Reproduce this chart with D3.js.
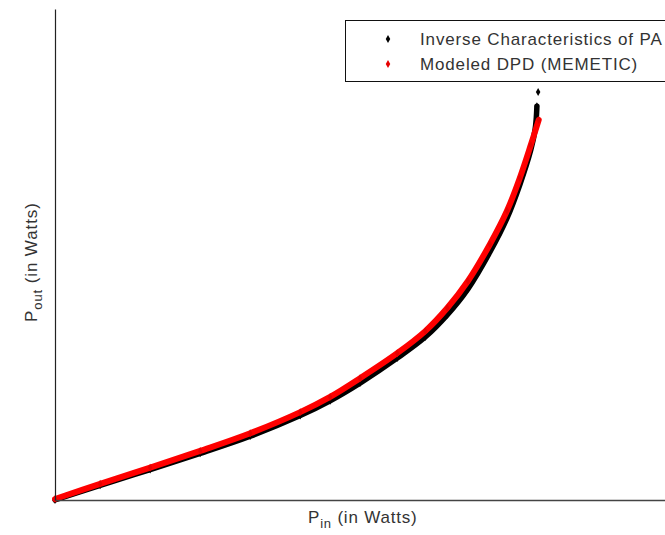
<!DOCTYPE html>
<html>
<head>
<meta charset="utf-8">
<script src="https://cdn.jsdelivr.net/npm/d3@7"></script>
<style>
  body { margin: 0; background: #fff; }
  svg { font-family: "Liberation Sans", Arial, sans-serif; }
</style>
</head>
<body>
<script>
// series values (normalised watts)
var paIn  = [0.000, 0.074, 0.156, 0.238, 0.320, 0.402, 0.451, 0.500, 0.561, 0.607, 0.643, 0.677, 0.713, 0.741, 0.762, 0.780, 0.787, 0.789, 0.790, 0.792];
var paOut = [0.000, 0.030, 0.062, 0.095, 0.130, 0.172, 0.202, 0.238, 0.289, 0.332, 0.377, 0.430, 0.505, 0.574, 0.642, 0.713, 0.754, 0.778, 0.802, 0.831];
var dpdIn  = [0.000, 0.074, 0.156, 0.238, 0.320, 0.402, 0.451, 0.500, 0.561, 0.607, 0.643, 0.677, 0.713, 0.741, 0.762, 0.780, 0.793];
var dpdOut = [0.002, 0.033, 0.066, 0.100, 0.136, 0.179, 0.210, 0.248, 0.299, 0.344, 0.391, 0.446, 0.521, 0.589, 0.656, 0.723, 0.774];
var seriesNames = ["Inverse Characteristics of PA", "Modeled DPD (MEMETIC)"];
var seriesColors = ["#000000", "#e60000"];

var width = 665, height = 535;
var margin = {left: 55, top: 9, bottom: 35};

var svg = d3.select("body").append("svg")
    .attr("width", width)
    .attr("height", height);

var x = d3.scaleLinear().domain([0, 1]).range([margin.left, width]);
var y = d3.scaleLinear().domain([0, 1]).range([height - margin.bottom, margin.top]);

var pa = paIn.map(function(v, i){ return [v, paOut[i]]; });
var dpd = dpdIn.map(function(v, i){ return [v, dpdOut[i]]; });

var line = d3.line()
    .x(function(d){ return x(d[0]); })
    .y(function(d){ return y(d[1]); })
    .curve(d3.curveCatmullRom);

var diamond = d3.symbol().type(d3.symbolDiamond).size(18);

//black band (inverse PA), top point is a lone outlier
svg.append("path")
    .datum(pa.slice(0, pa.length - 1))
    .attr("fill", "none")
    .attr("stroke", seriesColors[0])
    .attr("stroke-width", 5.5)
    .attr("stroke-linecap", "round")
    .attr("d", line);
svg.selectAll(".paPts").data(pa).enter().append("path")
    .attr("class", "paPts")
    .attr("d", diamond)
    .attr("fill", seriesColors[0])
    .attr("transform", function(d){ return "translate(" + x(d[0]) + "," + y(d[1]) + ")"; });

//red band (DPD model)
svg.append("path")
    .datum(dpd)
    .attr("fill", "none")
    .attr("stroke", "#ff0000")
    .attr("stroke-width", 6)
    .attr("stroke-linecap", "round")
    .attr("d", line);
svg.selectAll(".dpdPts").data(dpd).enter().append("path")
    .attr("class", "dpdPts")
    .attr("d", diamond)
    .attr("fill", seriesColors[1])
    .attr("transform", function(d){ return "translate(" + x(d[0]) + "," + y(d[1]) + ")"; });

//axes, no ticks
svg.append("g")
    .attr("transform", "translate(0," + y(0) + ")")
    .call(d3.axisBottom(x).ticks(0).tickSizeOuter(0))
    .select(".domain").attr("stroke", "#444").attr("stroke-width", 1.5);
svg.append("g")
    .attr("transform", "translate(" + x(0) + ",0)")
    .call(d3.axisLeft(y).ticks(0).tickSizeOuter(0))
    .select(".domain").attr("stroke", "#222").attr("stroke-width", 1.2);

//axis labels
var xl = svg.append("text")
    .attr("x", 308).attr("y", 523)
    .attr("font-size", 17).attr("letter-spacing", 0.8).attr("fill", "#333");
xl.append("tspan").text("P");
xl.append("tspan").attr("dy", 5).attr("font-size", 13).text("in");
xl.append("tspan").attr("dy", -5).text(" (in Watts)");

var yl = svg.append("text")
    .attr("transform", "translate(37,322) rotate(-90)")
    .attr("font-size", 17).attr("letter-spacing", 0.9).attr("fill", "#333");
yl.append("tspan").text("P");
yl.append("tspan").attr("dy", 5).attr("font-size", 13).text("out");
yl.append("tspan").attr("dy", -5).text(" (in Watts)");

//legend
var legend = svg.append("g");
legend.append("rect")
    .attr("x", 345.5).attr("y", 20.5)
    .attr("width", 330).attr("height", 61)
    .attr("fill", "#fff").attr("stroke", "#111");
var rows = legend.selectAll(".row").data(seriesNames).enter().append("g")
    .attr("class", "row")
    .attr("transform", function(d, i){ return "translate(0," + (39 + i * 25) + ")"; });
rows.append("path")
    .attr("d", diamond)
    .attr("transform", "translate(388,0)")
    .attr("fill", function(d, i){ return seriesColors[i]; });
rows.append("text")
    .attr("x", 420).attr("y", 6)
    .attr("font-size", 17).attr("letter-spacing", 0.85).attr("fill", "#333")
    .text(function(d){ return d; });
</script>
</body>
</html>
